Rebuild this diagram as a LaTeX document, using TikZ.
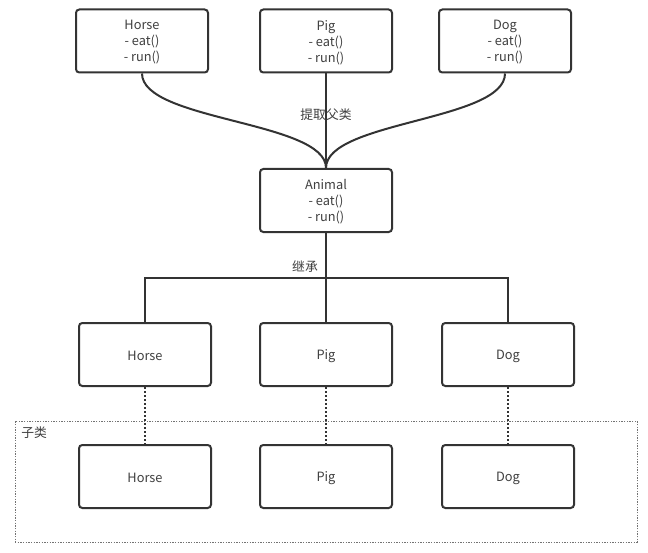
\documentclass[tikz,border=0pt]{standalone}
\usepackage{fontspec}
\setmainfont{Noto Sans CJK SC}
\begin{document}
\begin{tikzpicture}[x=0.75pt,y=-0.75pt,
  cls/.style={draw=black!80,line width=1.5pt,rounded corners=2.5pt,minimum width=132*0.75pt,minimum height=63*0.75pt,inner sep=0pt,align=center,text=black!75,font=\fontsize{9.6pt}{12pt}\selectfont},
  link/.style={draw=black!80,line width=1.5pt},
  dots/.style={draw=black!80,line width=1.5pt,dash pattern=on 1.5pt off 1.5pt},
  lbl/.style={text=black!75,font=\fontsize{9.6pt}{11pt}\selectfont,inner sep=0pt}]
\useasboundingbox (0,0) rectangle (648,552);
\fill[white] (0,0) rectangle (648,552);
% container
\node[draw=black!55,line width=0.5pt,dash pattern=on 1pt off 1pt,minimum width=622*0.75pt,minimum height=121*0.75pt,inner sep=0pt] (grp) at (326,481.5) {};
\node[lbl,anchor=west] (grplbl) at (21,433) {子类};
% top row
\node[cls] (h1) at (142,41) {};
\node[cls] (p1) at (326,41) {};
\node[cls] (d1) at (505,41) {};
\node[cls,draw=none] (h1t) at (142,42.5) {Horse\\- eat()\\- run()};
\node[cls,draw=none] (p1t) at (326,42.5) {Pig\\- eat()\\- run()};
\node[cls,draw=none] (d1t) at (505,42.5) {Dog\\- eat()\\- run()};
% animal
\node[cls] (an) at (326,200.5) {};
\node[cls,draw=none] (ant) at (326,202) {Animal\\- eat()\\- run()};
% middle row
\node[cls] (h2) at (145,354.5) {};
\node[cls] (p2) at (326,354.5) {};
\node[cls] (d2) at (508,354.5) {};
\node[lbl] (h2t) at (145,356) {Horse};
\node[lbl] (p2t) at (326,356) {Pig};
\node[lbl] (d2t) at (508,356) {Dog};
% bottom row
\node[cls] (h3) at (145,476.5) {};
\node[cls] (p3) at (326,476.5) {};
\node[cls] (d3) at (508,476.5) {};
\node[lbl] (h3t) at (145,478) {Horse};
\node[lbl] (p3t) at (326,478) {Pig};
\node[lbl] (d3t) at (508,478) {Dog};
% curves
\draw[link] (h1.south) .. controls (142,121) and (326,121) .. (an.north);
\draw[link] (d1.south) .. controls (505,121) and (326,121) .. (an.north);
\draw[link] (p1.south) -- (an.north);
\node[lbl] (l1) at (326,115) {提取父类};
% inheritance tree
\coordinate (j) at (326,278);
\draw[link] (an.south) -- (j);
\draw[link] (h2.north) |- (j) -| (d2.north);
\draw[link] (j) -- (p2.north);
\node[lbl] (l2) at (305,267) {继承};
% dotted links
\draw[dots] (h2.south) -- (h3.north);
\draw[dots] (p2.south) -- (p3.north);
\draw[dots] (d2.south) -- (d3.north);
\end{tikzpicture}
\end{document}
